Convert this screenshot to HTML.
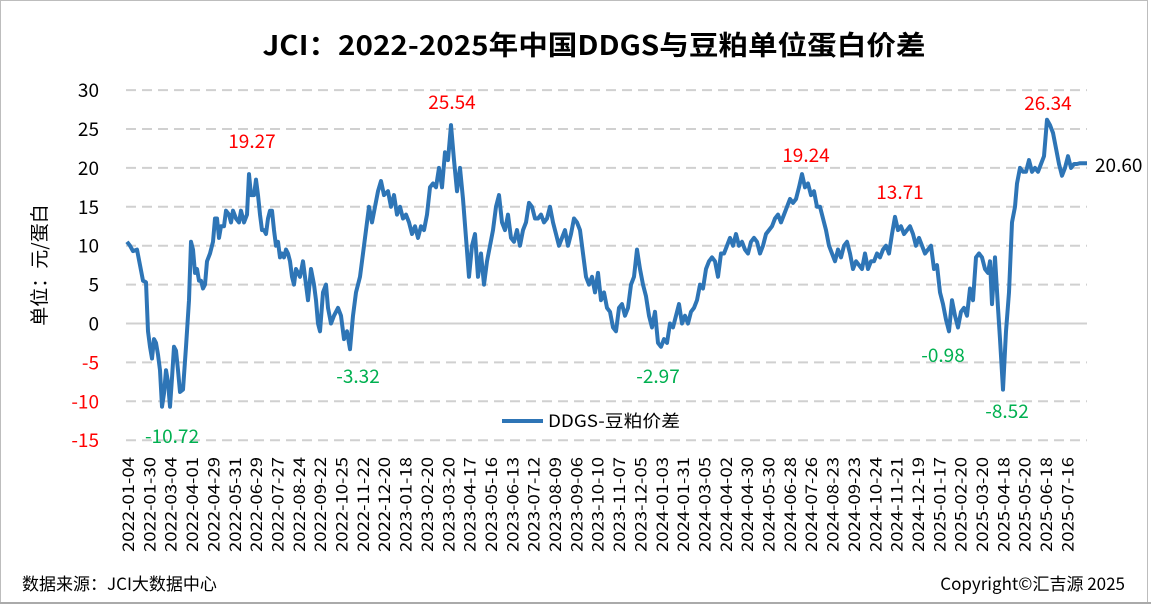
<!DOCTYPE html>
<html><head><meta charset="utf-8"><style>
html,body{margin:0;padding:0;background:#fff}
svg{display:block}
text{font-family:"Noto Sans CJK SC","Liberation Sans",sans-serif}
</style></head><body>
<svg id="s" width="1151" height="607" viewBox="0 0 1151 607" xmlns="http://www.w3.org/2000/svg">
<rect x="0.5" y="0.5" width="1147" height="602" fill="#fff" stroke="#bdbdbd"/>
<line x1="0" y1="603" x2="1151" y2="603" stroke="#aaa" stroke-width="2"/>
<text x="594" y="55" text-anchor="middle" font-size="27" font-weight="bold" textLength="663" lengthAdjust="spacingAndGlyphs">JCI：2022-2025年中国DDGS与豆粕单位蛋白价差</text>
<g id="grid" stroke="#d0d0d0" stroke-width="2"></g>
<g id="ylab" font-size="19" text-anchor="end"></g>
<text transform="translate(46,265) rotate(-90)" text-anchor="middle" font-size="19">单位：元/蛋白</text>
<g id="xlab" font-size="16"></g>
<polyline id="ln" fill="none" stroke="#2e75b6" stroke-width="4" stroke-linejoin="round"/>
<g font-size="19">
<text x="252" y="148" text-anchor="middle" fill="#ff0000">19.27</text>
<text x="452" y="109" text-anchor="middle" fill="#ff0000">25.54</text>
<text x="806" y="162" text-anchor="middle" fill="#ff0000">19.24</text>
<text x="900" y="199" text-anchor="middle" fill="#ff0000">13.71</text>
<text x="1048" y="110" text-anchor="middle" fill="#ff0000">26.34</text>
<text x="172" y="443" text-anchor="middle" fill="#00b050">-10.72</text>
<text x="358" y="383" text-anchor="middle" fill="#00b050">-3.32</text>
<text x="658" y="383" text-anchor="middle" fill="#00b050">-2.97</text>
<text x="943" y="362" text-anchor="middle" fill="#00b050">-0.98</text>
<text x="1007" y="418" text-anchor="middle" fill="#00b050">-8.52</text>
<text x="1095" y="172" fill="#000">20.60</text>
</g>
<line x1="502" y1="421" x2="543" y2="421" stroke="#2e75b6" stroke-width="4"/>
<text x="548" y="427" font-size="17" textLength="132" lengthAdjust="spacingAndGlyphs">DDGS-豆粕价差</text>
<text x="22" y="590" font-size="17">数据来源：JCI大数据中心</text>
<text x="1125" y="590" font-size="17" text-anchor="end">Copyright©汇吉源 2025</text>
</svg>
<script>
var NS="http://www.w3.org/2000/svg";
function Y(v){return 323.5-v*7.78;}
var g=document.getElementById('grid'),yl=document.getElementById('ylab');
for(var v=30;v>=-15;v-=5){
 var l=document.createElementNS(NS,'line');
 l.setAttribute('x1',126);l.setAttribute('x2',1087);l.setAttribute('y1',Y(v));l.setAttribute('y2',Y(v));
 if(v!==0)l.setAttribute('stroke-dasharray','10 6');
 g.appendChild(l);
 var t=document.createElementNS(NS,'text');t.setAttribute('x',99);t.setAttribute('y',Y(v)+7);
 t.textContent=v;if(v<0)t.setAttribute('fill','#ff0000');yl.appendChild(t);
}
var dates="2022-01-04,2022-01-30,2022-03-04,2022-04-01,2022-04-29,2022-05-31,2022-06-29,2022-07-27,2022-08-24,2022-09-22,2022-10-25,2022-11-22,2022-12-20,2023-01-18,2023-02-20,2023-03-20,2023-04-17,2023-05-16,2023-06-13,2023-07-12,2023-08-09,2023-09-06,2023-10-10,2023-11-07,2023-12-05,2024-01-03,2024-01-31,2024-03-05,2024-04-02,2024-04-30,2024-05-30,2024-06-28,2024-07-26,2024-08-23,2024-09-23,2024-10-24,2024-11-21,2024-12-19,2025-01-17,2025-02-20,2025-03-20,2025-04-18,2025-05-20,2025-06-18,2025-07-16".split(',');
var xl=document.getElementById('xlab');
dates.forEach(function(d,i){var x=128+i*21.35+6;var t=document.createElementNS(NS,'text');
t.setAttribute('transform','translate('+x+',457) rotate(-90)');t.setAttribute('text-anchor','end');
t.setAttribute('textLength',95);t.setAttribute('lengthAdjust','spacingAndGlyphs');t.textContent=d;xl.appendChild(t);});
var p=[127,10.5,130,10,133,9.3,137,9.5,140,7.5,143,5.5,146,5.3,148,-1,150,-3,152,-4.5,154,-2,156,-2.5,158,-4,160,-6,162,-10.7,164,-9,166,-6,168,-7.5,170,-10.7,172,-7,174,-3,176,-3.5,178,-6,180,-8.8,183,-8.5,186,-3,189,3,191,10.5,193,9.5,195,6.5,197,7,199,5.5,201,5.5,203,4.5,205,5,207,8,210,9,213,10.5,215,13.5,217,13.5,219,11,221,12.5,224,12.5,226,14.5,229,14,231,13,233,14.5,236,13.5,239,13,241,14.5,244,13,247,14,249,19.2,251,16.5,254,16.5,256,18.5,258,16.5,260,14,262,12,264,12,266,11.5,268,13.5,270,14.5,272,14.5,274,12,276,10,278,10.5,280,8.5,282,9,284,8.5,286,9.5,288,9,290,8,292,6,294,5,296,7,300,6,303,8,306,5,308,3,311,7,314,5,316,3,318,0,320,-1,323,4,326,5,328,2,331,0,334,1,338,2,341,1,344,-2,347,-1,350,-3.3,353,1,356,4,360,6,363,9,366,12,369,15,372,13,375,15,378,17,381,18.3,384,16.5,388,17,391,15,394,16.5,397,14,400,15,403,13.5,406,14,409,13,412,11.5,415,12.5,418,11,421,12.5,424,12,427,14,430,17.5,433,18,436,17.5,439,20,442,17.5,445,22,448,21,451,25.5,454,21,457,17,460,20,463,16,466,11,469,6,472,10,475,11.5,478,6,481,9,484,5,487,8,490,10,493,12,496,15,499,16.5,502,13,505,12,508,14,511,11,514,10.5,517,12,520,10,523,12,526,13,529,15.5,532,15,535,13.5,538,13.5,541,14,544,13,547,13.5,550,15,553,13,556,11.5,559,10,562,11,565,12,568,10,571,11.5,574,13.5,577,13,580,12,583,9,586,6,589,5,592,6,595,4,598,6.5,601,3,604,4,607,2,610,1.5,613,-0.5,616,-1,619,2,622,2.5,625,1,628,2,631,5,634,6,637,9.5,640,7,643,5,646,3.5,649,1,652,-0.5,655,1.5,658,-2.5,661,-3,664,-2,667,-2.5,670,0,673,-0.5,676,1,679,2.5,682,0,685,1,688,0,691,1.5,694,2,697,3,700,5,703,4.5,706,7,709,8,712,8.5,715,8,718,6,721,9,724,9,727,10,730,11,733,10,736,11.5,739,10,742,10.5,745,9.5,748,9,751,10.5,754,11,757,10.5,760,9,763,10,766,11.5,769,12,772,12.5,775,13.5,778,14,781,13,784,14,787,15,790,16,793,15.5,796,16,799,17.5,802,19.2,805,17.5,808,18,811,16.5,814,17,817,15,820,15,823,13.5,826,12,829,10,832,9,835,8,838,9.5,841,8.5,844,10,847,10.5,850,9,853,7,856,8,859,7.5,862,7,865,9,868,7,871,8,874,8,877,9,880,8.5,883,9.5,886,10,889,9,892,11.5,895,13.7,898,12,901,12.5,904,11.5,907,12,910,12.5,913,11.5,916,10,919,11,922,10,925,9,928,9.5,931,10,934,7,937,7.5,940,4,943,2.5,946,0.5,949,-1,952,3,955,1,958,-0.5,961,1.5,964,2,967,1,970,4.5,973,3,976,8.5,979,9,982,8.5,985,7,988,6.5,990,8,992,2.5,995,8.5,998,2,1000,-2,1003,-8.5,1006,-1,1009,4,1012,13,1015,15,1017,18,1020,20,1023,19.5,1026,19.5,1029,21,1032,19.5,1035,20,1038,19.5,1041,20.5,1044,21.5,1047,26.2,1050,25.5,1053,24.5,1056,22.5,1059,20.5,1062,19,1065,20,1068,21.5,1071,20,1074,20.5,1077,20.5,1080,20.6,1087,20.6];
var s=[];for(var i=0;i<p.length;i+=2)s.push(p[i]+','+Y(p[i+1]).toFixed(1));
document.getElementById('ln').setAttribute('points',s.join(' '));
</script>
</body></html>
